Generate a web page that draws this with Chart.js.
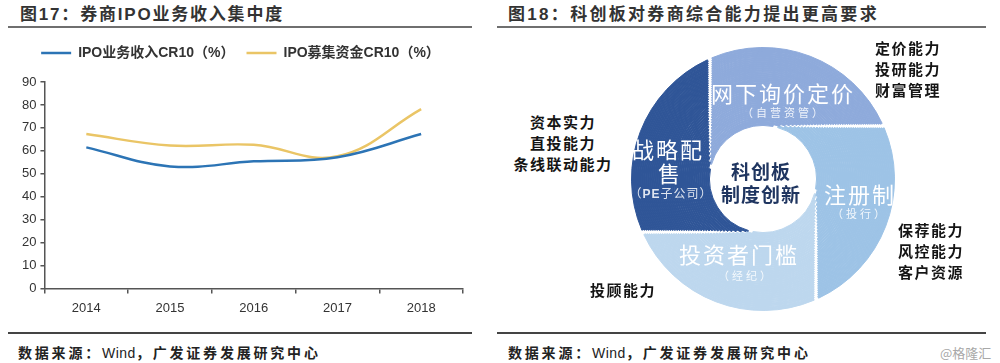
<!DOCTYPE html>
<html>
<head>
<meta charset="utf-8">
<script src="https://cdn.jsdelivr.net/npm/chart.js@4.4.1/dist/chart.umd.min.js"></script>
<style>
    body { margin: 0; width: 1000px; height: 363px; background: #fff; position: relative; overflow: hidden;
           font-family: "Noto Sans CJK SC", sans-serif; }
    .title { position: absolute; top: 2px; font-size: 17px; line-height: 22px; font-weight: bold; color: #333;
             letter-spacing: 1.8px; white-space: nowrap; }
    .title .lat { font-family: "Liberation Sans", sans-serif; }
    .rule { position: absolute; background: #6f6f6f; }
    .source { position: absolute; top: 342px; font-size: 14px; line-height: 20px; font-weight: bold; color: #222;
              letter-spacing: 2.8px; white-space: nowrap; }
    .source .lat { font-family: "Liberation Sans", sans-serif; font-weight: normal; letter-spacing: 0.5px; }
    .mark { position: absolute; top: 343px; left: 940px; font-size: 13px; color: #a8a8a8; white-space: nowrap; }
    canvas { position: absolute; }
    .lbl { position: absolute; transform: translate(-50%, -50%); white-space: nowrap; text-align: center; }
    .big { font-size: 22px; color: #fff; letter-spacing: 2px; line-height: 24px; }
    .small { font-size: 11px; color: rgba(255,255,255,0.85); letter-spacing: 3px; line-height: 14px; }
    .core { font-size: 19px; color: #1f3560; font-weight: bold; letter-spacing: 1px; line-height: 22px; }
    .side { position: absolute; font-size: 15px; font-weight: bold; color: #151515; letter-spacing: 1.5px;
            line-height: 21px; white-space: nowrap; }
</style>
</head>
<body>
<div class="title" style="left:20px">图<span class="lat">17</span>：券商<span class="lat">IPO</span>业务收入集中度</div>
<div class="rule" style="left:8px; top:26px; width:464px; height:2px"></div>
<div class="title" style="left:508px; letter-spacing:2.3px">图<span class="lat">18</span>：科创板对券商综合能力提出更高要求</div>
<div class="rule" style="left:497px; top:26px; width:489px; height:2px"></div>

<canvas id="lineChart" width="490" height="291" style="left:0; top:34px"></canvas>
<canvas id="wheelChart" width="264" height="264" style="left:631px; top:47px"></canvas>

<div class="lbl big" style="left:783px; top:92px">网下询价定价</div>
<div class="lbl small" style="left:784px; top:112px">（自营资管）</div>
<div class="lbl big" style="left:668px; top:148px">战略配</div>
<div class="lbl big" style="left:670px; top:172px">售</div>
<div class="lbl small" style="left:671px; top:193px; letter-spacing:1px; font-size:12px">（<span style="font-family:'Liberation Sans';font-weight:bold">PE</span>子公司）</div>
<div class="lbl core" style="left:761px; top:171px">科创板</div>
<div class="lbl core" style="left:761px; top:194px">制度创新</div>
<div class="lbl big" style="left:860px; top:193px">注册制</div>
<div class="lbl small" style="left:860px; top:213px">（投行）</div>
<div class="lbl big" style="left:739px; top:253px">投资者门槛</div>
<div class="lbl small" style="left:746px; top:275px">（经纪）</div>

<div class="side" style="left:875px; top:37px">定价能力<br>投研能力<br>财富管理</div>
<div class="side" style="left:513px; top:111px; width:100px; text-align:center">资本实力<br>直投能力<br>条线联动能力</div>
<div class="side" style="left:898px; top:219px">保荐能力<br>风控能力<br>客户资源</div>
<div class="side" style="left:590px; top:279px">投顾能力</div>

<div class="rule" style="left:8px; top:332px; width:464px; height:2px; background:#444"></div>
<div class="rule" style="left:497px; top:332px; width:489px; height:2px; background:#444"></div>
<div class="source" style="left:18px">数据来源：<span class="lat">Wind</span>，广发证券发展研究中心</div>
<div class="source" style="left:508px">数据来源：<span class="lat">Wind</span>，广发证券发展研究中心</div>
<div class="mark">@格隆汇</div>

<script>
// Line chart data
const years = ["2014", "2015", "2016", "2017", "2018"];
const incomeCR10 = [61.5, 53.2, 55.4, 57.2, 67.3];
const raisedCR10 = [67.3, 62.3, 62.6, 57.6, 78.2];
const seriesNames = ["IPO业务收入CR10（%）", "IPO募集资金CR10（%）"];
const yMin = 0;
const yMax = 90;
const yStep = 10;

// Wheel data: four equal quarters
const petalNames = ["网下询价定价", "注册制", "投资者门槛", "战略配售"];
const petalShares = [25, 25, 25, 25];
const petalColors = ["#8eaadb", "#9dc3e6", "#bdd7ee", "#2f5597"];

const latin = '"Liberation Sans", "Noto Sans CJK SC", sans-serif';

// pad the legend a bit so the plot starts lower
const legendGap = {
    id: "legendGap",
    beforeInit(chart) {
        const fit = chart.legend.fit;
        chart.legend.fit = function () {
            fit.bind(chart.legend)();
            this.height += 12;
        };
    }
};

new Chart(document.getElementById("lineChart"), {
    type: "line",
    data: {
        labels: years,
        datasets: [
            { label: seriesNames[0], data: incomeCR10, borderColor: "#2c74b5", backgroundColor: "#2c74b5",
              borderWidth: 2.5, pointRadius: 0, tension: 0.4 },
            { label: seriesNames[1], data: raisedCR10, borderColor: "#eac566", backgroundColor: "#eac566",
              borderWidth: 2.5, pointRadius: 0, tension: 0.4 }
        ]
    },
    options: {
        responsive: false,
        animation: false,
        events: [],
        layout: { padding: { left: 18, right: 27, top: 0, bottom: 2 } },
        plugins: {
            legend: {
                labels: {
                    usePointStyle: true, pointStyle: "line", pointStyleWidth: 30,
                    color: "#333", padding: 12,
                    font: { family: latin, size: 14, weight: "bold" }
                }
            },
            tooltip: { enabled: false }
        },
        scales: {
            x: {
                offset: true,
                grid: { offset: true, drawOnChartArea: false, tickLength: 5, color: "#555", lineWidth: 1.5 },
                border: { color: "#555", width: 1.5 },
                ticks: { color: "#333", padding: 7, font: { family: latin, size: 13 } }
            },
            y: {
                min: yMin, max: yMax,
                grid: { drawOnChartArea: false, tickLength: 4, color: "#555", lineWidth: 1.5 },
                border: { color: "#555", width: 1.5 },
                ticks: { stepSize: yStep, color: "#333", padding: 4, font: { family: latin, size: 13 } }
            }
        }
    },
    plugins: [legendGap]
});

// Wheel: many thin rings, each turned a little, so the cuts follow
// straight lines tangent to the white centre like the original
const ringCount = 40;
const boxSize = 264;
const ringSpacing = 6;
const ringBorder = 1;
const cutoutRatio = 0.393;
const tangentR = 53;
const maxR = (boxSize - ringSpacing - ringBorder) / 2;
const innerR = maxR * cutoutRatio;
const ringStep = (maxR - innerR) / ringCount;

const rings = [];
for (let i = 0; i < ringCount; i++) {
    const mid = maxR - (i + 0.5) * ringStep + ringSpacing / 2;
    const twist = -Math.asin(Math.min(1, tangentR / mid)) * 180 / Math.PI;
    rings.push({
        label: "ring" + i,
        data: petalShares,
        backgroundColor: petalColors,
        borderColor: petalColors,
        borderWidth: ringBorder,
        spacing: ringSpacing,
        hoverOffset: 0,
        rotation: twist
    });
}

new Chart(document.getElementById("wheelChart"), {
    type: "doughnut",
    data: { labels: petalNames, datasets: rings },
    options: {
        responsive: false,
        animation: false,
        events: [],
        cutout: (cutoutRatio * 100) + "%",
        layout: { padding: 0 },
        plugins: { legend: { display: false }, tooltip: { enabled: false } }
    }
});
</script>
</body>
</html>
